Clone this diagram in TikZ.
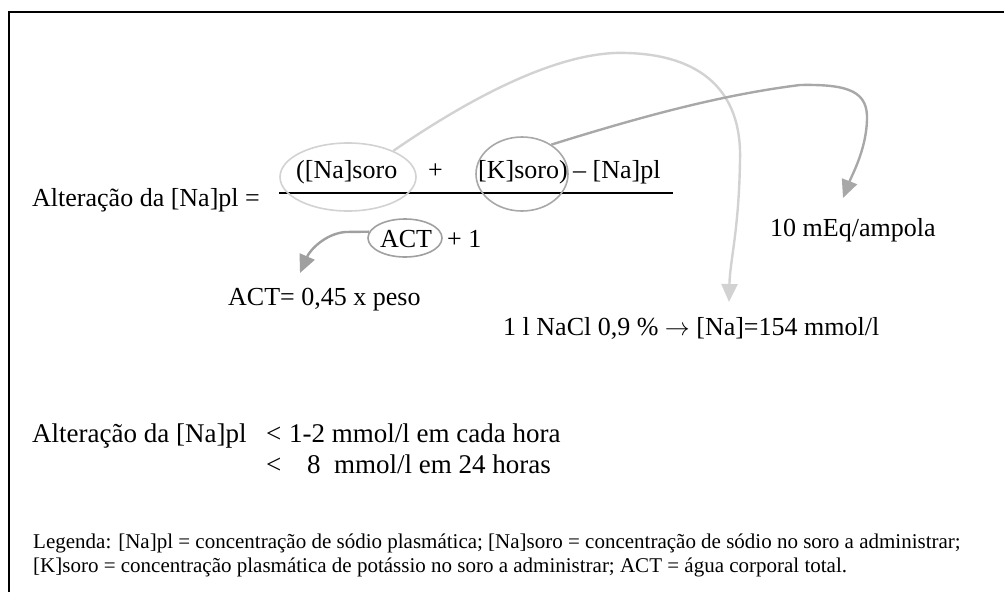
\documentclass[tikz,border=0pt]{standalone}
\usepackage{fontspec}
\setmainfont{Liberation Serif}
\usetikzlibrary{arrows.meta,shapes.geometric}
\definecolor{lightc}{HTML}{D2D2D2}
\definecolor{midc}{HTML}{A8A8A8}
\definecolor{actc}{HTML}{A0A0A0}
\begin{document}
\begin{tikzpicture}[x=1pt,y=-1pt,
  txt/.style={inner sep=0pt, anchor=base west, font=\fontsize{26}{31}\selectfont},
  big/.style={inner sep=0pt, anchor=base west, font=\fontsize{27}{32}\selectfont},
  leg/.style={inner sep=0pt, anchor=base west, font=\fontsize{21}{25}\selectfont},
  ring/.style={draw, ellipse, inner sep=0pt, line width=1.6pt},
  conn/.style={line width=2.4pt, -{Triangle[length=18pt,width=16pt]}}]
\useasboundingbox (0,0) rectangle (1004,592);
% frame
\draw[line width=1.6pt] (9,592) -- (9,12) -- (1004,12);
% main equation
\node[txt] (t1) at (32,206) {Alteração da [Na]pl =};
\draw[line width=2pt] (279,193) -- (673,193);
\node[txt] (n1) at (296,178) {([Na]soro};
\node[txt] (n2) at (428,178) {+};
\node[txt] (n3) at (478,178) {[K]soro)};
\node[txt] (n4) at (573,178) {– [Na]pl};
\node[ring, draw=lightc, minimum width=136pt, minimum height=68pt] (e1) at (348,177) {};
\node[ring, draw=midc, minimum width=92pt, minimum height=74pt] (e2) at (522,174) {};
\node[ring, draw=actc, minimum width=74pt, minimum height=38pt] (e3) at (405,238) {};
\node[txt, anchor=base] (act) at (406,247) {ACT};
\node[txt] (plus1) at (447,247) {+ 1};
\node[txt] (actdef) at (228,305) {ACT= 0,45 x peso};
\node[txt] (meq) at (770,236) {10 mEq/ampola};
\node[txt] (nacl) at (503,335) {1 l NaCl 0,9 \% $\rightarrow$ [Na]=154 mmol/l};
% arrow end points
\coordinate (tipA) at (300,273);
\coordinate (tipB) at (729,302);
\coordinate (tipC) at (843,198);
% connectors
\draw[conn, draw=actc] (e3.170) -- (345,232) .. controls (325,234) and (310,250) .. (tipA);
\draw[conn, draw=lightc] (e1.30) .. controls (470,98) and (560,50) .. (627,53)
   .. controls (700,55) and (742,90) .. (740,160)
   .. controls (739,230) and (730,260) .. (tipB);
\draw[conn, draw=midc] (e2.45) .. controls (640,117) and (720,95) .. (800,85)
   .. controls (850,84) and (868,92) .. (867,120)
   .. controls (866,150) and (852,175) .. (tipC);
% limits
\node[big] (t2) at (32,442) {Alteração da [Na]pl};
\node[big] (lt1) at (266,442) {<};
\node[big] (r1) at (289,442) {1-2 mmol/l em cada hora};
\node[big] (lt2) at (266,473) {<};
\node[big] (r2) at (307,473) {8 \ mmol/l em 24 horas};
% legend
\node[leg] (l1) at (33,548) {Legenda: [Na]pl = concentração de sódio plasmática; [Na]soro = concentração de sódio no soro a administrar;};
\node[leg] (l2) at (33,572) {[K]soro = concentração plasmática de potássio no soro a administrar; ACT = água corporal total.};
\end{tikzpicture}
\end{document}
